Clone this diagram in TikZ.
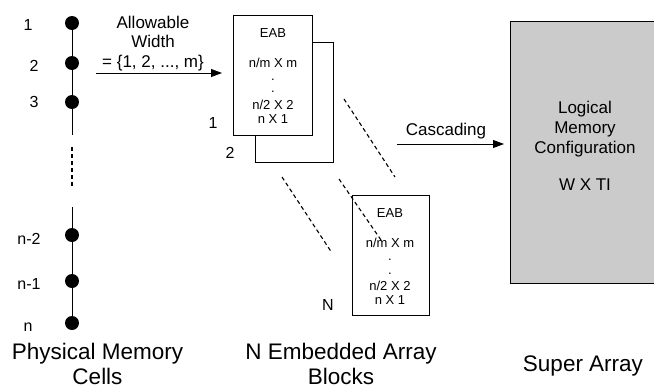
\documentclass[tikz,border=0pt]{standalone}
\usepackage{fontspec}
\setmainfont{Liberation Sans}
\usepackage{xcolor}
\usetikzlibrary{arrows.meta,positioning}
\definecolor{stipple}{HTML}{CBCBCB}

\begin{document}
\begin{tikzpicture}[x=10pt,y=-10pt,line width=0.8pt,
  cell/.style={circle, fill=black, inner sep=0pt, minimum size=14pt},
  eab/.style={draw, fill=white, minimum width=78pt, minimum height=120pt, inner sep=0pt},
  sml/.style={font=\fontsize{13}{15}\selectfont, inner sep=0pt},
  idx/.style={font=\fontsize{16}{18}\selectfont, inner sep=0pt},
  mid/.style={font=\fontsize{17}{20}\selectfont, inner sep=0pt, anchor=base},
  big/.style={font=\fontsize{22.5}{27}\selectfont, inner sep=0pt, anchor=base},
  dsh/.style={line width=1.1pt, dash pattern=on 4pt off 3pt},
  arr/.style={-{Triangle[length=11pt,width=8pt]}}]
\useasboundingbox (0,0) rectangle (65.4,38.9);
% left column: physical memory cells
\node[cell] (c1) at (7.2,2.3) {};
\node[cell] (c2) at (7.2,6.3) {};
\node[cell] (c3) at (7.2,10.2) {};
\coordinate (cut1) at (7.2,13.5);
\coordinate (cut2) at (7.2,14.7);
\coordinate (cut3) at (7.2,18.8);
\coordinate (cut4) at (7.2,20.7);
\node[cell] (cn2) at (7.2,23.5) {};
\node[cell] (cn1) at (7.2,28.1) {};
\node[cell] (cn) at (7.2,32.3) {};
\draw (c1) -- (c2) -- (c3) -- (cut1);
\draw[dsh] (cut2) -- (cut3);
\draw (cut4) -- (cn2) -- (cn1) -- (cn);
\node[idx] (l1) at (2.8,2.5) {1};
\node[idx] (l2) at (3.4,6.6) {2};
\node[idx] (l3) at (3.4,10.2) {3};
\node[idx] (ln2) at (2.9,23.9) {n-2};
\node[idx] (ln1) at (2.9,28.4) {n-1};
\node[idx] (ln) at (2.8,32.7) {n};
% allowable width arrow
\node[mid] (aw1) at (15.3,2.8) {Allowable};
\node[mid] (aw2) at (15.3,4.7) {Width};
\node[mid] (aw3) at (15.3,6.7) {= \{1, 2, ..., m\}};
\coordinate (w0) at (9.6,7.3);
\coordinate (w1) at (22.2,7.3);
\draw[arr] (w0) -- (w1);
% embedded array blocks 1, 2 and N
\node[eab] (eab2) at (29.4,10.2) {};
\node[eab, minimum width=79pt] (eab1) at (27.25,7.5) {};
\node[sml] (e1a) at (27.3,3.3) {EAB};
\node[sml] (e1b) at (27.3,6.25) {n/m X m};
\node[sml] (e1c) at (27.3,8.0) {.};
\node[sml] (e1d) at (27.3,9.2) {.};
\node[sml] (e1e) at (27.3,10.5) {n/2 X 2};
\node[sml] (e1f) at (27.3,11.9) {n X 1};
\node[idx] (b1) at (21.3,12.3) {1};
\node[idx] (b2) at (23.0,15.3) {2};
\node[eab, minimum width=77pt] (eabN) at (39.05,25.5) {};
\node[sml] (eNa) at (39.0,21.3) {EAB};
\node[sml] (eNb) at (39.0,24.3) {n/m X m};
\node[sml] (eNc) at (39.0,26.0) {.};
\node[sml] (eNd) at (39.0,27.4) {.};
\node[sml] (eNe) at (39.0,28.55) {n/2 X 2};
\node[sml] (eNf) at (39.0,30.05) {n X 1};
\node[idx] (bN) at (32.8,30.5) {N};
% dashed lines between block 2 and block N
\draw[dsh] (34.4,9.9) -- (39.5,17.7);
\draw[dsh] (28.2,17.7) -- (33.2,25.3);
\draw[dsh] (33.9,17.9) -- (38.1,24.0);
% cascading into the super array
\node[mid] (cas) at (44.6,13.5) {Cascading};
\coordinate (k0) at (39.7,14.4);
\coordinate (k1) at (50.4,14.4);
\draw[arr] (k0) -- (k1);
\node[draw, fill=stipple, minimum width=146pt, minimum height=262pt, inner sep=0pt] (sup) at (58.3,15.2) {};
\node[mid] (s1) at (58.5,11.3) {Logical};
\node[mid] (s2) at (58.5,13.3) {Memory};
\node[mid] (s3) at (58.5,15.3) {Configuration};
\node[mid] (s4) at (58.5,19.0) {W X TI};
% captions
\node[big] (cap1a) at (9.75,35.9) {Physical Memory};
\node[big] (cap1b) at (9.75,38.4) {Cells};
\node[big] (cap2a) at (34.1,35.9) {N Embedded Array};
\node[big] (cap2b) at (34.1,38.4) {Blocks};
\node[big] (cap3) at (58.3,37.1) {Super Array};
\end{tikzpicture}
\end{document}
